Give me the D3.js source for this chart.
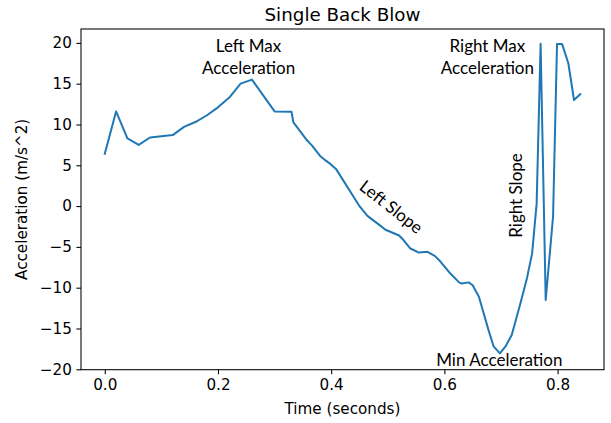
<!DOCTYPE html>
<html>
<head>
<meta charset="utf-8">
<script src="https://cdn.jsdelivr.net/npm/d3@7"></script>
<style>
  html, body { margin: 0; padding: 0; background: #fff; }
  svg { display: block; }
</style>
</head>
<body>
<svg id="chart" width="611" height="423"></svg>
<script>
// ---- data ----
const times = [0, 0.02, 0.04, 0.06, 0.08, 0.12, 0.14, 0.16, 0.18, 0.20, 0.22, 0.24, 0.26,
  0.30, 0.33, 0.333, 0.358, 0.367, 0.381, 0.388, 0.398, 0.409, 0.449, 0.464, 0.485, 0.496,
  0.52, 0.527, 0.54, 0.555, 0.57, 0.583, 0.593, 0.611, 0.626, 0.631, 0.643, 0.65, 0.661,
  0.678, 0.687, 0.698, 0.708, 0.719, 0.734, 0.746, 0.755, 0.763, 0.77, 0.779, 0.792,
  0.799, 0.808, 0.819, 0.829, 0.84];
const accel = [6.4, 11.6, 8.3, 7.5, 8.4, 8.7, 9.7, 10.3, 11.1, 12.1, 13.3, 15.0, 15.5,
  11.6, 11.55, 10.3, 8.0, 7.35, 6.1, 5.7, 5.2, 4.5, 0.1, -1.2, -2.3, -2.9,
  -3.6, -4.1, -5.2, -5.7, -5.6, -6.1, -6.8, -8.3, -9.35, -9.5, -9.35, -9.7, -11.1,
  -15.2, -17.2, -18.05, -17.2, -15.8, -12.0, -8.8, -5.8, 0.3, 19.9, -11.5, -1.3,
  19.85, 19.85, 17.5, 13.0, 13.7];
const xTicks = [0.0, 0.2, 0.4, 0.6, 0.8];
const yTicks = [-20, -15, -10, -5, 0, 5, 10, 15, 20];
const xDomain = [-0.042, 0.882];
const yDomain = [-20.05, 21.7];
const title = "Single Back Blow";
const xLabel = "Time (seconds)";
const yLabel = "Acceleration (m/s^2)";
const annotations = [
  { lines: ["Left Max", "Acceleration"], t: 0.254, v: 19.6, rot: 0 },
  { lines: ["Right Max", "Acceleration"], t: 0.676, v: 19.6, rot: 0 },
  { lines: ["Left Slope"], t: 0.506, v: -0.1, rot: 38 },
  { lines: ["Right Slope"], t: 0.727, v: 1.3, rot: -90 },
  { lines: ["Min Acceleration"], t: 0.697, v: -18.85, rot: 0 }
];

// ---- layout ----
const W = 611, H = 423;
const m = { left: 81, right: 7, top: 29, bottom: 53.3 };
const svg = d3.select("#chart");
const x = d3.scaleLinear().domain(xDomain).range([m.left, W - m.right]);
const y = d3.scaleLinear().domain(yDomain).range([H - m.bottom, m.top]);
const tickFont = "'DejaVu Sans', sans-serif";
const fs = "15.2px";

// line
const pts = times.map((t, i) => [t, accel[i]]);
svg.append("path")
  .datum(pts)
  .attr("fill", "none")
  .attr("stroke", "#1f77b4")
  .attr("stroke-width", 2)
  .attr("stroke-linejoin", "round")
  .attr("stroke-linecap", "square")
  .attr("d", d3.line().x(d => x(d[0])).y(d => y(d[1])));

// axes
const xAxis = d3.axisBottom(x).tickValues(xTicks).tickFormat(d3.format(".1f")).tickSize(4.6).tickPadding(4.6);
const yAxis = d3.axisLeft(y).tickValues(yTicks).tickFormat(d => d < 0 ? "\u2212" + Math.abs(d) : d).tickSize(4.6).tickPadding(4.6);
const gx = svg.append("g").attr("transform", `translate(0,${H - m.bottom})`).call(xAxis);
const gy = svg.append("g").attr("transform", `translate(${m.left},0)`).call(yAxis);
[gx, gy].forEach(g => {
  g.select(".domain").remove();
  g.selectAll("line").attr("stroke", "#000").attr("stroke-width", 1.06);
  g.selectAll("text").attr("fill", "#000").style("font-family", tickFont).style("font-size", fs);
});

// frame
svg.append("rect")
  .attr("x", m.left).attr("y", m.top)
  .attr("width", W - m.right - m.left).attr("height", H - m.bottom - m.top)
  .attr("fill", "none").attr("stroke", "#000").attr("stroke-width", 1.06);

// title & labels
svg.append("text").attr("x", (m.left + W - m.right) / 2).attr("y", 21)
  .attr("text-anchor", "middle").style("font-family", tickFont).style("font-size", "18.3px")
  .text(title);
svg.append("text").attr("x", (m.left + W - m.right) / 2).attr("y", 414)
  .attr("text-anchor", "middle").style("font-family", tickFont).style("font-size", fs)
  .text(xLabel);
svg.append("text").attr("transform", `translate(27,${(m.top + H - m.bottom) / 2}) rotate(-90)`)
  .attr("text-anchor", "middle").style("font-family", tickFont).style("font-size", fs)
  .text(yLabel);

// annotations
annotations.forEach(a => {
  const g = svg.append("g").attr("transform", `translate(${x(a.t)},${y(a.v)}) rotate(${a.rot})`);
  a.lines.forEach((l, i) => {
    g.append("text").attr("x", 0).attr("y", i * 22 + 6)
      .attr("text-anchor", "middle")
      .style("font-family", "Lato, 'Open Sans', sans-serif").style("font-size", "17px")
      .text(l);
  });
});
</script>
</body>
</html>
